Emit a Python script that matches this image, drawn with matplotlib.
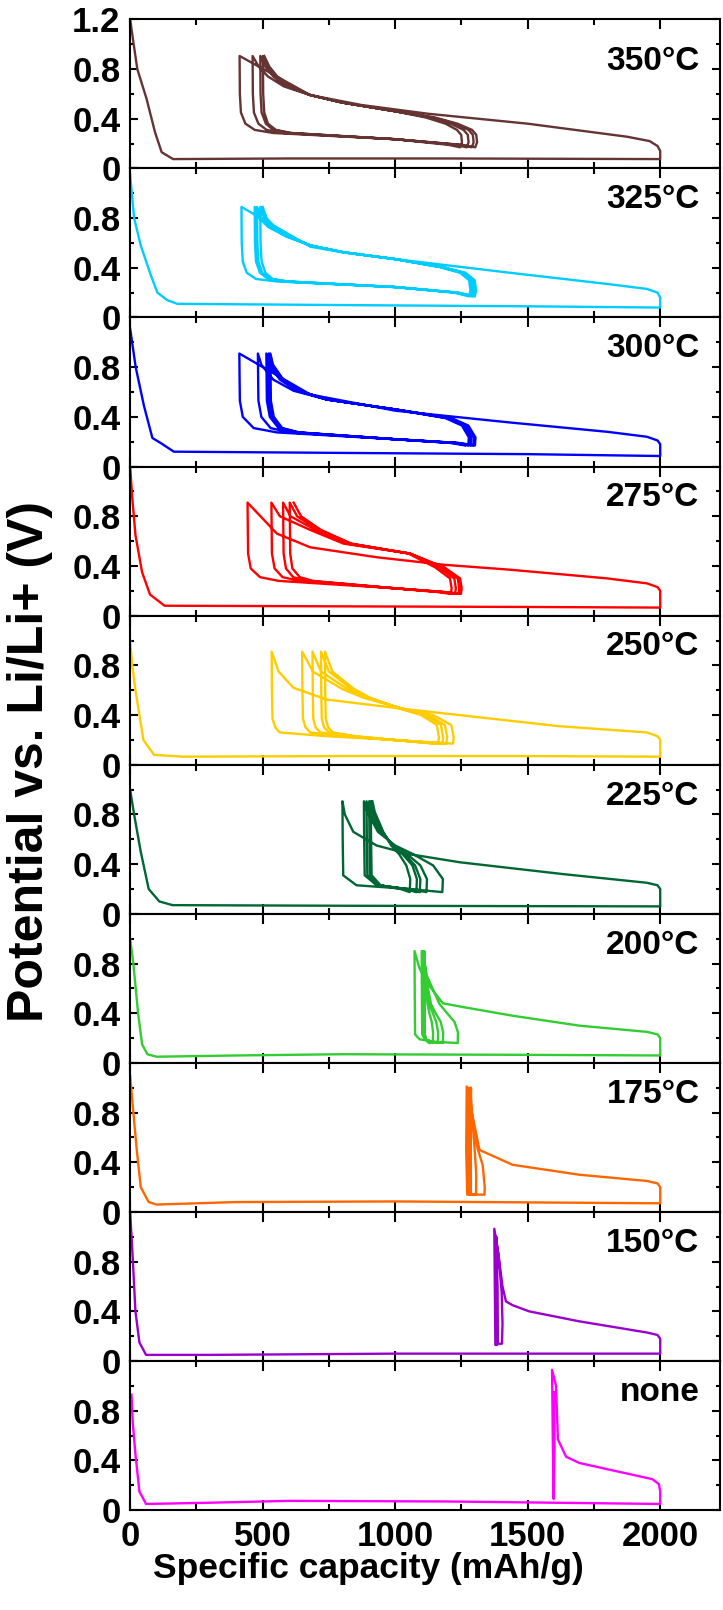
import matplotlib
matplotlib.use('Agg')
import matplotlib.pyplot as plt
from matplotlib.ticker import MultipleLocator

# --- data: capacity (mAh/g) and potential (V), one path per panel ---
x350 = [0, 10, 27, 62, 94, 119, 162, 600, 1200, 2000,
        2000, 1990, 1960, 1875, 1500, 1124, 874, 680, 413,
        414, 418, 435, 470, 540, 1000, 1250, 1302,
        1309, 1306, 1290, 1235, 1150, 1000, 800, 680, 580, 520, 485, 462,
        463, 467, 484, 515, 580, 1000, 1240, 1289,
        1296, 1293, 1277, 1225, 1140, 1000, 800, 680, 590, 540, 510, 491,
        492, 496, 512, 540, 600, 1000, 1225, 1270,
        1277, 1274, 1258, 1210, 1130, 1000, 800, 680, 600, 550, 520, 501,
        502, 506, 520, 550, 610, 1000, 1200, 1245,
        1252, 1249, 1233, 1190, 1115, 1000, 800, 680, 605, 555, 525, 506]
v350 = [1.2, 1.05, 0.8, 0.56, 0.29, 0.13, 0.075, 0.08, 0.08, 0.075,
        0.14, 0.18, 0.22, 0.255, 0.36, 0.44, 0.51, 0.59, 0.905,
        0.6, 0.45, 0.36, 0.31, 0.285, 0.235, 0.19, 0.17,
        0.21, 0.27, 0.31, 0.36, 0.41, 0.46, 0.53, 0.59, 0.66, 0.74, 0.82, 0.905,
        0.6, 0.45, 0.36, 0.31, 0.285, 0.235, 0.19, 0.17,
        0.21, 0.27, 0.31, 0.36, 0.41, 0.46, 0.53, 0.59, 0.66, 0.74, 0.82, 0.905,
        0.6, 0.45, 0.36, 0.31, 0.285, 0.235, 0.19, 0.17,
        0.21, 0.27, 0.31, 0.36, 0.41, 0.46, 0.53, 0.59, 0.66, 0.74, 0.82, 0.905,
        0.6, 0.45, 0.36, 0.31, 0.285, 0.235, 0.19, 0.17,
        0.21, 0.27, 0.31, 0.36, 0.41, 0.46, 0.53, 0.59, 0.66, 0.74, 0.82, 0.905]

x325 = [0, 15, 40, 78, 103, 140, 178, 800, 1500, 2000,
        2000, 1990, 1950, 1800, 1433, 1000, 800, 680, 420,
        421, 425, 440, 475, 554, 1000, 1240, 1301,
        1305, 1300, 1265, 1182, 1000, 805, 680, 590, 520, 487, 470,
        471, 475, 490, 520, 580, 1000, 1235, 1295,
        1299, 1294, 1259, 1178, 1000, 805, 680, 595, 527, 495, 479,
        480, 484, 498, 528, 590, 1000, 1230, 1289,
        1293, 1288, 1253, 1174, 1000, 805, 680, 600, 537, 506, 491,
        492, 496, 510, 538, 598, 1000, 1222, 1280,
        1284, 1279, 1245, 1168, 1000, 805, 680, 605, 545, 515, 500]
v325 = [1.15, 0.8, 0.58, 0.34, 0.2, 0.14, 0.11, 0.1, 0.09, 0.08,
        0.16, 0.2, 0.23, 0.27, 0.36, 0.47, 0.525, 0.57, 0.89,
        0.6, 0.45, 0.36, 0.31, 0.29, 0.245, 0.2, 0.17,
        0.22, 0.3, 0.36, 0.405, 0.47, 0.525, 0.58, 0.65, 0.73, 0.8, 0.89,
        0.6, 0.45, 0.36, 0.31, 0.29, 0.245, 0.2, 0.17,
        0.22, 0.3, 0.36, 0.405, 0.47, 0.525, 0.58, 0.65, 0.73, 0.8, 0.89,
        0.6, 0.45, 0.36, 0.31, 0.29, 0.245, 0.2, 0.17,
        0.22, 0.3, 0.36, 0.405, 0.47, 0.525, 0.58, 0.65, 0.73, 0.8, 0.89,
        0.6, 0.45, 0.36, 0.31, 0.29, 0.245, 0.2, 0.17,
        0.22, 0.3, 0.36, 0.405, 0.47, 0.525, 0.58, 0.65, 0.73, 0.8, 0.89]

x300 = [0, 21, 52, 84, 115, 165, 800, 1500, 2000,
        2000, 1990, 1950, 1800, 1433, 1000, 680, 412,
        413, 414, 425, 466, 554, 1000, 1240, 1301,
        1303, 1276, 1213, 1000, 742, 617, 540, 495, 482,
        483, 484, 495, 530, 600, 1000, 1235, 1295,
        1297, 1270, 1207, 1000, 742, 630, 565, 525, 514,
        515, 516, 527, 560, 625, 1000, 1228, 1285,
        1287, 1260, 1198, 1000, 742, 635, 572, 533, 523,
        524, 525, 536, 568, 632, 1000, 1220, 1276,
        1278, 1252, 1190, 1000, 742, 640, 578, 539, 529,
        530, 531, 542, 574, 638, 1000, 1210, 1264]
v300 = [1.11, 0.8, 0.49, 0.23, 0.19, 0.12, 0.11, 0.1, 0.085,
        0.18, 0.21, 0.24, 0.28, 0.355, 0.45, 0.58, 0.91,
        0.7, 0.53, 0.4, 0.31, 0.275, 0.22, 0.19, 0.17,
        0.235, 0.33, 0.39, 0.46, 0.54, 0.61, 0.7, 0.82, 0.91,
        0.7, 0.53, 0.4, 0.31, 0.275, 0.22, 0.19, 0.17,
        0.235, 0.33, 0.39, 0.46, 0.54, 0.61, 0.7, 0.82, 0.91,
        0.7, 0.53, 0.4, 0.31, 0.275, 0.22, 0.19, 0.17,
        0.235, 0.33, 0.39, 0.46, 0.54, 0.61, 0.7, 0.82, 0.91,
        0.7, 0.53, 0.4, 0.31, 0.275, 0.22, 0.19, 0.17,
        0.235, 0.33, 0.39, 0.46, 0.54, 0.61, 0.7, 0.82, 0.91,
        0.7, 0.53, 0.4, 0.31, 0.275, 0.22, 0.19, 0.17]

x275 = [0, 8, 20, 45, 75, 130, 800, 1500, 2000,
        2000, 1990, 1950, 1800, 1433, 1182, 931, 680, 554, 443,
        444, 445, 455, 490, 560, 1000, 1190, 1248,
        1251, 1245, 1185, 1056, 805, 680, 565, 533,
        534, 535, 545, 575, 640, 1000, 1185, 1239,
        1242, 1236, 1176, 1056, 820, 700, 605, 577,
        578, 579, 588, 615, 670, 1000, 1175, 1226,
        1229, 1223, 1165, 1056, 830, 712, 630, 602,
        603, 604, 612, 640, 690, 1000, 1160, 1210,
        1213, 1207, 1150, 1050, 835, 720, 645, 617]
v275 = [1.2, 0.95, 0.65, 0.35, 0.17, 0.08, 0.075, 0.07, 0.065,
        0.2, 0.23, 0.26, 0.3, 0.37, 0.41, 0.47, 0.55, 0.66, 0.91,
        0.7, 0.5, 0.38, 0.31, 0.28, 0.22, 0.19, 0.175,
        0.22, 0.3, 0.39, 0.5, 0.58, 0.69, 0.8, 0.91,
        0.7, 0.5, 0.38, 0.31, 0.28, 0.22, 0.19, 0.175,
        0.22, 0.3, 0.39, 0.5, 0.58, 0.69, 0.8, 0.91,
        0.7, 0.5, 0.38, 0.31, 0.28, 0.22, 0.19, 0.175,
        0.22, 0.3, 0.39, 0.5, 0.58, 0.69, 0.8, 0.91,
        0.7, 0.5, 0.38, 0.31, 0.28, 0.22, 0.19, 0.175,
        0.22, 0.3, 0.39, 0.5, 0.58, 0.69, 0.8, 0.91]

x250 = [0, 8, 20, 50, 90, 200, 800, 1500, 2000,
        2000, 1990, 1950, 1620, 1030, 741, 616, 560, 534,
        535, 537, 548, 565, 741, 992, 1218,
        1221, 1212, 1143, 1030, 880, 800, 690, 649,
        650, 652, 662, 680, 800, 992, 1193,
        1196, 1188, 1125, 1030, 890, 820, 720, 688,
        689, 691, 700, 718, 820, 992, 1178,
        1181, 1173, 1110, 1025, 900, 835, 750, 720,
        721, 723, 732, 750, 840, 992, 1162,
        1165, 1157, 1098, 1020, 905, 845, 763, 735,
        736, 738, 747, 765, 850, 992, 1143]
v250 = [1.0, 0.8, 0.6, 0.2, 0.08, 0.065, 0.07, 0.07, 0.065,
        0.2, 0.23, 0.26, 0.31, 0.45, 0.525, 0.62, 0.75, 0.91,
        0.6, 0.37, 0.3, 0.26, 0.23, 0.2, 0.17,
        0.22, 0.32, 0.4, 0.45, 0.54, 0.61, 0.75, 0.91,
        0.6, 0.37, 0.3, 0.26, 0.23, 0.2, 0.17,
        0.22, 0.32, 0.4, 0.45, 0.54, 0.61, 0.75, 0.91,
        0.6, 0.37, 0.3, 0.26, 0.23, 0.2, 0.17,
        0.22, 0.32, 0.4, 0.45, 0.54, 0.61, 0.75, 0.91,
        0.6, 0.37, 0.3, 0.26, 0.23, 0.2, 0.17,
        0.22, 0.32, 0.4, 0.45, 0.54, 0.61, 0.75, 0.91,
        0.6, 0.37, 0.3, 0.26, 0.23, 0.2, 0.17]

x225 = [0, 15, 40, 70, 110, 160, 800, 2000,
        2000, 1990, 1950, 1633, 1244, 1055, 930, 842, 810, 801,
        802, 804, 854, 1050, 1178,
        1180, 1143, 1068, 1000, 935, 895, 882,
        883, 885, 930, 1050, 1118,
        1120, 1095, 1045, 995, 945, 903, 892,
        893, 895, 935, 1040, 1093,
        1095, 1075, 1035, 990, 950, 912, 902,
        903, 905, 940, 1035, 1080,
        1082, 1065, 1028, 990, 952, 918, 908,
        909, 911, 945, 1020, 1055,
        1057, 1042, 1015, 985, 955, 923, 914]
v225 = [1.0, 0.8, 0.5, 0.2, 0.1, 0.07, 0.065, 0.06,
        0.2, 0.23, 0.25, 0.32, 0.415, 0.48, 0.55, 0.66, 0.8, 0.906,
        0.6, 0.31, 0.23, 0.2, 0.175,
        0.28, 0.39, 0.48, 0.55, 0.66, 0.82, 0.906,
        0.6, 0.31, 0.23, 0.2, 0.175,
        0.28, 0.39, 0.48, 0.55, 0.66, 0.82, 0.906,
        0.6, 0.31, 0.23, 0.2, 0.175,
        0.28, 0.39, 0.48, 0.55, 0.66, 0.82, 0.906,
        0.6, 0.31, 0.23, 0.2, 0.175,
        0.28, 0.39, 0.48, 0.55, 0.66, 0.82, 0.906,
        0.6, 0.31, 0.23, 0.2, 0.175,
        0.28, 0.39, 0.48, 0.55, 0.66, 0.82, 0.906]

x200 = [0, 12, 30, 45, 65, 100, 400, 800, 1500, 2000,
        2000, 1990, 1950, 1695, 1443, 1255, 1180, 1129, 1092, 1073,
        1074, 1075, 1092, 1150, 1236,
        1237, 1224, 1192, 1167, 1120, 1100,
        1101, 1102, 1112, 1140, 1180,
        1181, 1172, 1150, 1135, 1115, 1105,
        1106, 1107, 1115, 1135, 1161,
        1162, 1155, 1140, 1128, 1115, 1108,
        1109, 1110, 1117, 1128, 1142,
        1143, 1138, 1128, 1122, 1115, 1110,
        1111, 1112, 1116, 1122, 1129]
v200 = [1.0, 0.8, 0.4, 0.15, 0.07, 0.05, 0.06, 0.07, 0.065, 0.06,
        0.2, 0.23, 0.25, 0.3, 0.38, 0.45, 0.48, 0.62, 0.76, 0.9,
        0.5, 0.23, 0.19, 0.17, 0.16,
        0.245, 0.33, 0.41, 0.475, 0.7, 0.9,
        0.5, 0.23, 0.19, 0.17, 0.16,
        0.245, 0.33, 0.41, 0.475, 0.7, 0.9,
        0.5, 0.23, 0.19, 0.17, 0.16,
        0.245, 0.33, 0.41, 0.475, 0.7, 0.9,
        0.5, 0.23, 0.19, 0.17, 0.16,
        0.245, 0.33, 0.41, 0.475, 0.7, 0.9,
        0.5, 0.23, 0.19, 0.17, 0.16]

x175 = [0, 10, 25, 40, 70, 100, 400, 1000, 2000,
        2000, 1990, 1950, 1695, 1443, 1318, 1299, 1270,
        1268, 1272, 1337, 1338, 1330, 1311, 1290, 1278,
        1276, 1280, 1305, 1306, 1300, 1283,
        1282, 1286, 1285, 1288]
v175 = [1.1, 0.85, 0.5, 0.2, 0.08, 0.06, 0.08, 0.085, 0.07,
        0.2, 0.23, 0.25, 0.30, 0.38, 0.5, 0.7, 1.01,
        0.5, 0.14, 0.14, 0.2, 0.38, 0.51, 0.75, 1.0,
        0.5, 0.14, 0.14, 0.3, 0.5, 1.0,
        0.14, 1.0, 0.14, 0.14]

x150 = [0, 8, 20, 35, 60, 300, 1000, 2000,
        2000, 1990, 1950, 1695, 1506, 1443, 1418, 1405, 1390, 1374,
        1376, 1378, 1385, 1386, 1382, 1386, 1403, 1405, 1402, 1390, 1380]
v150 = [1.2, 0.9, 0.4, 0.15, 0.05, 0.05, 0.06, 0.06,
        0.18, 0.21, 0.23, 0.32, 0.4, 0.45, 0.48, 0.6, 0.85, 1.065,
        0.6, 0.13, 0.13, 0.6, 1.0, 0.14, 0.14, 0.3, 0.55, 0.85, 1.0]

xnone = [5, 10, 20, 35, 60, 300, 600, 1200, 2000,
         2000, 1995, 1970, 1800, 1695, 1645, 1614, 1607, 1592,
         1595, 1598, 1601, 1600]
vnone = [0.93, 0.7, 0.45, 0.15, 0.05, 0.06, 0.075, 0.07, 0.05,
         0.15, 0.21, 0.25, 0.33, 0.38, 0.43, 0.57, 1.0, 1.13,
         0.5, 0.09, 0.5, 0.95]

labels = ['350\u00b0C', '325\u00b0C', '300\u00b0C', '275\u00b0C', '250\u00b0C',
          '225\u00b0C', '200\u00b0C', '175\u00b0C', '150\u00b0C', 'none']
colors = ['#663333', '#00ccff', '#0000ff', '#ff0000', '#ffcc00',
          '#006633', '#33cc33', '#ff6600', '#9900cc', '#ff00ff']
xs = [x350, x325, x300, x275, x250, x225, x200, x175, x150, xnone]
vs = [v350, v325, v300, v275, v250, v225, v200, v175, v150, vnone]
xticks = [0, 500, 1000, 1500, 2000]

plt.rcParams['font.family'] = ['Liberation Sans', 'DejaVu Sans']
plt.rcParams['font.weight'] = 'bold'

fig, axes = plt.subplots(10, 1, figsize=(7.23, 16.1), dpi=100, sharex=True)
fig.subplots_adjust(left=0.18, right=0.996, top=0.988, bottom=0.062, hspace=0)

for i, ax in enumerate(axes):
    ax.plot(xs[i], vs[i], color=colors[i], lw=1.7)
    ax.set_xlim(0, 2226)
    ax.set_ylim(0, 1.2)
    ax.set_xticks(xticks)
    ax.xaxis.set_minor_locator(MultipleLocator(250))
    ax.yaxis.set_minor_locator(MultipleLocator(0.2))
    ax.set_yticks([0, 0.4, 0.8, 1.2])
    if i == 0:
        ax.set_yticklabels(['0', '0.4', '0.8', '1.2'])
    else:
        ax.set_yticklabels(['0', '0.4', '0.8', ''])
    ax.tick_params(which='both', direction='in', top=True, right=True,
                   width=1.5, labelsize=25)
    ax.tick_params(axis='x', which='major', length=7, pad=7)
    ax.tick_params(axis='x', which='minor', length=4)
    ax.tick_params(axis='y', which='major', length=5.5, pad=7)
    ax.tick_params(axis='y', which='minor', length=3)
    for s in ax.spines.values():
        s.set_linewidth(1.5)
    ypos = 0.72 if i == 0 else 0.79
    ax.text(0.965, ypos, labels[i], transform=ax.transAxes, ha='right',
            va='center', fontsize=24, fontweight='bold')

axes[-1].set_xticklabels([str(t) for t in xticks])
fig.text(0.51, 0.026, 'Specific capacity (mAh/g)', ha='center', va='center',
         fontsize=25.5, fontweight='bold')
fig.text(0.042, 0.527, 'Potential vs. Li/Li+ (V)', ha='center', va='center',
         rotation=90, fontsize=36, fontweight='bold')

plt.savefig('out.png', dpi=100)
